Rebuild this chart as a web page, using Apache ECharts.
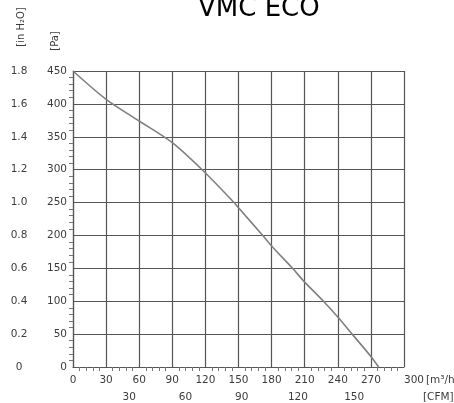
<!DOCTYPE html>
<html>
<head>
<meta charset="utf-8">
<script src="https://cdn.jsdelivr.net/npm/echarts@6/dist/echarts.min.js"></script>
<style>html,body{margin:0;padding:0;background:#fff}#c{width:454px;height:403px}</style>
</head>
<body>
<div id="c"></div>
<script>
// Data
const flow = [0, 30, 60, 90, 120, 146, 150, 172, 180, 199, 210, 227, 240, 253, 270, 277];          // m³/h
const pressure = [450, 407, 374, 341, 295, 250, 242, 200, 184, 150, 129, 100, 76, 50, 16, 0];      // Pa
const paTicks = [0, 50, 100, 150, 200, 250, 300, 350, 400, 450];
const inH2OTicks = ['0', '0.2', '0.4', '0.6', '0.8', '1.0', '1.2', '1.4', '1.6', '1.8'];
const flowTicks = [0, 30, 60, 90, 120, 150, 180, 210, 240, 270, 300];
const cfmTicks = [30, 60, 90, 120, 150];
const CFM_PER_M3H = 1 / 1.699;

const chart = echarts.init(document.getElementById('c'), null, {renderer: 'canvas'});
const lblColor = '#3c3c3c';
const font = 'DejaVu Sans';
const gridColor = '#555';

chart.setOption({
  backgroundColor: '#fff',
  animation: false,
  title: {
    text: 'VMC ECO', left: 193, top: -9,
    textStyle: {fontFamily: font, fontSize: 26, fontWeight: 'normal', color: '#000'}
  },
  grid: {left: 73, top: 71, width: 331, height: 296, containLabel: false},
  xAxis: [{
    type: 'value', min: 0, max: 300, interval: 30, position: 'bottom',
    axisLine: {show: true, lineStyle: {color: gridColor, width: 1.2}},
    axisTick: {show: false},
    minorTick: {show: true, splitNumber: 5, length: 4, lineStyle: {color: '#777'}},
    splitLine: {show: true, lineStyle: {color: gridColor, width: 1.2}},
    axisLabel: {
      margin: 8, color: lblColor, fontFamily: font, fontSize: 10.5,
      alignMaxLabel: 'left',
      formatter: v => flowTicks.includes(v) ? String(v) : ''
    }
  }, {
    type: 'value', min: 0, max: 300 * CFM_PER_M3H, interval: 30, position: 'bottom', offset: 17,
    axisLine: {show: false}, axisTick: {show: false}, splitLine: {show: false},
    axisLabel: {
      margin: 8, color: lblColor, fontFamily: font, fontSize: 10.5,
      showMinLabel: false, showMaxLabel: false,
      formatter: v => cfmTicks.includes(v) ? String(v) : ''
    }
  }],
  yAxis: [{
    type: 'value', min: 0, max: 450, interval: 50,
    axisLine: {show: true, lineStyle: {color: gridColor, width: 1.2}},
    axisTick: {show: false},
    minorTick: {show: true, splitNumber: 5, length: 4, lineStyle: {color: '#777'}},
    splitLine: {show: true, lineStyle: {color: gridColor, width: 1.2}},
    axisLabel: {margin: 6, color: lblColor, fontFamily: font, fontSize: 10.5,
      formatter: v => paTicks.includes(v) ? String(v) : ''}
  }, {
    type: 'value', min: 0, max: 1.8, interval: 0.2, position: 'left',
    axisLine: {show: false}, axisTick: {show: false}, splitLine: {show: false},
    axisLabel: {margin: 54, align: 'center', color: lblColor, fontFamily: font, fontSize: 10.5,
      formatter: (v, i) => inH2OTicks[i] !== undefined ? inH2OTicks[i] : ''}
  }],
  graphic: [
    {type: 'text', x: 55, y: 41, rotation: Math.PI / 2,
      style: {text: '[Pa]', align: 'center', verticalAlign: 'middle', fill: lblColor, font: '10px "DejaVu Sans"'}},
    {type: 'text', x: 21, y: 27, rotation: Math.PI / 2,
      style: {text: '[in H₂O]', align: 'center', verticalAlign: 'middle', fill: lblColor, font: '10px "DejaVu Sans"'}},
    {type: 'text', x: 426, y: 380,
      style: {text: '[m³/h]', align: 'left', verticalAlign: 'middle', fill: lblColor, font: '10.5px "DejaVu Sans"'}},
    {type: 'text', x: 423, y: 397,
      style: {text: '[CFM]', align: 'left', verticalAlign: 'middle', fill: lblColor, font: '10.5px "DejaVu Sans"'}}
  ],
  series: [{
    type: 'line', xAxisIndex: 0, yAxisIndex: 0,
    data: flow.map((f, i) => [f, pressure[i]]),
    showSymbol: false, smooth: 0.3,
    lineStyle: {color: '#808080', width: 1.6}
  }]
});
</script>
</body>
</html>
